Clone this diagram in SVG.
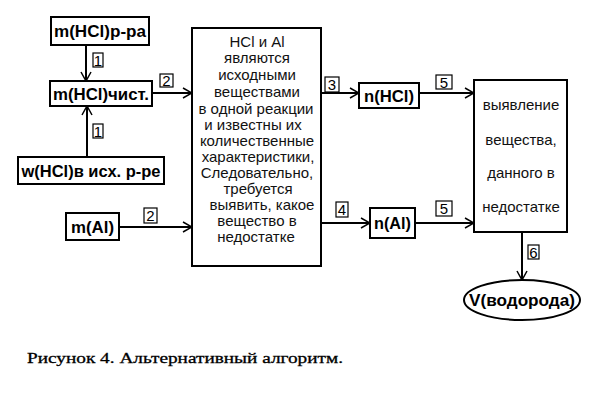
<svg xmlns="http://www.w3.org/2000/svg" width="603" height="406" viewBox="0 0 603 406">
<defs>
<style>
.box{fill:#fff;stroke:#000;stroke-width:2}
.lbl{fill:#fff;stroke:#000;stroke-width:1.2}
.nt{font-family:"Liberation Sans",Arial,sans-serif;font-weight:bold;font-size:16px;text-anchor:middle;fill:#000}
.bt{font-family:"Liberation Sans",Arial,sans-serif;font-size:15px;text-anchor:middle;fill:#111}
.dg{font-family:"Liberation Sans",Arial,sans-serif;font-size:15px;text-anchor:middle;fill:#000}
.ln{stroke:#000;stroke-width:2;fill:none}
.cap{font-family:"Liberation Serif","Times New Roman",serif;font-size:15px;fill:#000;stroke:#000;stroke-width:0.3}
</style>
<marker id="ah" markerWidth="10" markerHeight="12" refX="10" refY="6" orient="auto" markerUnits="userSpaceOnUse">
<path d="M1,1 L10,6 L1,11" fill="none" stroke="#000" stroke-width="1.5"/>
</marker>
</defs>
<rect width="603" height="406" fill="#fff"/>
<g id="connectors">
<line class="ln" x1="86" y1="45" x2="86" y2="81" marker-end="url(#ah)"/>
<line class="ln" x1="87" y1="157" x2="87" y2="106" marker-end="url(#ah)"/>
<line class="ln" x1="152" y1="93" x2="192" y2="93" marker-end="url(#ah)"/>
<line class="ln" x1="119" y1="227" x2="192" y2="227" marker-end="url(#ah)"/>
<line class="ln" x1="321" y1="93" x2="359" y2="93" marker-end="url(#ah)"/>
<line class="ln" x1="419" y1="93" x2="474" y2="93" marker-end="url(#ah)"/>
<line class="ln" x1="321" y1="223" x2="370" y2="223" marker-end="url(#ah)"/>
<line class="ln" x1="415" y1="223" x2="474" y2="223" marker-end="url(#ah)"/>
<line class="ln" x1="522" y1="232" x2="522" y2="280" marker-end="url(#ah)"/>
<rect class="lbl" x="93" y="53" width="10" height="14"/><text class="dg" x="98" y="65.5">1</text>
<rect class="lbl" x="93" y="124" width="10" height="14"/><text class="dg" x="98" y="136.5">1</text>
<rect class="lbl" x="160" y="74" width="13" height="13"/><text class="dg" x="166.5" y="86">2</text>
<rect class="lbl" x="144" y="208" width="13" height="15"/><text class="dg" x="150.5" y="221">2</text>
<rect class="lbl" x="325" y="77" width="14" height="15"/><text class="dg" x="332" y="90">3</text>
<rect class="lbl" x="336" y="202" width="12" height="15"/><text class="dg" x="342" y="215">4</text>
<rect class="lbl" x="436" y="75" width="16" height="14"/><text class="dg" x="444" y="87.5">5</text>
<rect class="lbl" x="436" y="201" width="16" height="15"/><text class="dg" x="444" y="214">5</text>
<rect class="lbl" x="528" y="245" width="11" height="14"/><text class="dg" x="533.5" y="257.5">6</text>
</g>
<g id="n-hcl-solution">
<rect class="box" x="51" y="17" width="98" height="28"/>
<text class="nt" x="100" y="37" textLength="92" lengthAdjust="spacingAndGlyphs">m(HCl)р-ра</text>
</g>
<g id="n-hcl-pure">
<rect class="box" x="50" y="81" width="102" height="25"/>
<text class="nt" x="101" y="99.5" textLength="96" lengthAdjust="spacingAndGlyphs">m(HCl)чист.</text>
</g>
<g id="n-w-hcl">
<rect class="box" x="18" y="157" width="146" height="27"/>
<text class="nt" x="91" y="176.5" textLength="139" lengthAdjust="spacingAndGlyphs">w(HCl)в исх. р-ре</text>
</g>
<g id="n-m-al">
<rect class="box" x="66" y="213" width="53" height="27"/>
<text class="nt" x="92.5" y="232.5" textLength="43" lengthAdjust="spacingAndGlyphs">m(Al)</text>
</g>
<g id="n-main">
<rect class="box" x="192" y="28" width="129" height="238"/>
<text class="bt" x="257" y="47">HCl и Al</text>
<text class="bt" x="257" y="63">являются</text>
<text class="bt" x="257" y="80">исходными</text>
<text class="bt" x="257" y="97">веществами</text>
<text class="bt" x="256" y="113.5">в одной реакции</text>
<text class="bt" x="253" y="130">и известны их</text>
<text class="bt" x="257" y="146">количественные</text>
<text class="bt" x="258" y="162">характеристики,</text>
<text class="bt" x="257" y="178">Следовательно,</text>
<text class="bt" x="258" y="194">требуется</text>
<text class="bt" x="262" y="210">выявить, какое</text>
<text class="bt" x="257" y="226">вещество в</text>
<text class="bt" x="256" y="242">недостатке</text>
</g>
<g id="n-n-hcl">
<rect class="box" x="359" y="83" width="60" height="25"/>
<text class="nt" x="389" y="101.5" textLength="50" lengthAdjust="spacingAndGlyphs">n(HCl)</text>
</g>
<g id="n-n-al">
<rect class="box" x="370" y="208" width="45" height="30"/>
<text class="nt" x="392.5" y="229" textLength="37" lengthAdjust="spacingAndGlyphs">n(Al)</text>
</g>
<g id="n-result">
<rect class="box" x="474" y="80" width="93" height="152"/>
<text class="bt" x="521" y="110">выявление</text>
<text class="bt" x="521" y="145">вещества,</text>
<text class="bt" x="521" y="178">данного в</text>
<text class="bt" x="521" y="212">недостатке</text>
</g>
<g id="n-volume">
<ellipse class="box" cx="522" cy="300" rx="58" ry="20"/>
<text class="nt" x="522" y="306" textLength="106" lengthAdjust="spacingAndGlyphs">V(водорода)</text>
</g>
<text class="cap" x="27" y="363" textLength="316" lengthAdjust="spacingAndGlyphs">Рисунок 4. Альтернативный алгоритм.</text>
</svg>
